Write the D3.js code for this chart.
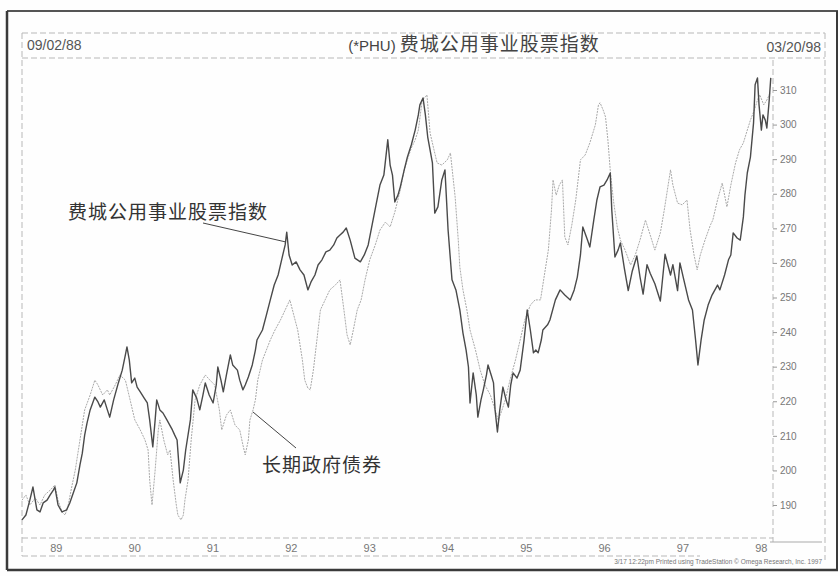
<!DOCTYPE html>
<html>
<head>
<meta charset="utf-8">
<script src="https://cdn.jsdelivr.net/npm/d3@7"></script>
<style>
  body { margin: 0; background: #fff; }
  svg text { font-family: "Liberation Sans", Arial, sans-serif; }
  .cjk { font-family: "Noto Sans CJK SC", sans-serif; }
</style>
</head>
<body>
<div id="chart"></div>
<script>
// PHU index (dark line): decimal year, index value
const phuYears = [1988.67,1988.72,1988.77,1988.81,1988.86,1988.90,1988.94,1988.99,1989.03,1989.07,1989.09,1989.13,1989.18,1989.24,1989.28,1989.33,1989.37,1989.41,1989.44,1989.47,1989.50,1989.54,1989.60,1989.64,1989.67,1989.72,1989.76,1989.79,1989.84,1989.90,1989.95,1989.99,1990.01,1990.04,1990.07,1990.11,1990.14,1990.18,1990.23,1990.27,1990.30,1990.34,1990.37,1990.39,1990.43,1990.47,1990.52,1990.59,1990.62,1990.65,1990.69,1990.73,1990.76,1990.82,1990.85,1990.90,1990.94,1990.98,1991.01,1991.06,1991.11,1991.15,1991.17,1991.21,1991.24,1991.28,1991.33,1991.36,1991.42,1991.45,1991.49,1991.52,1991.56,1991.61,1991.65,1991.67,1991.74,1991.79,1991.84,1991.89,1991.94,1991.99,1992.03,1992.05,1992.08,1992.12,1992.17,1992.22,1992.27,1992.32,1992.36,1992.41,1992.45,1992.50,1992.55,1992.60,1992.65,1992.69,1992.73,1992.77,1992.81,1992.86,1992.92,1992.99,1993.04,1993.09,1993.14,1993.19,1993.24,1993.29,1993.34,1993.37,1993.40,1993.43,1993.47,1993.50,1993.55,1993.59,1993.64,1993.69,1993.73,1993.75,1993.79,1993.82,1993.85,1993.91,1993.94,1993.98,1994.03,1994.07,1994.11,1994.16,1994.21,1994.26,1994.30,1994.34,1994.37,1994.39,1994.43,1994.47,1994.49,1994.53,1994.56,1994.60,1994.62,1994.66,1994.69,1994.71,1994.74,1994.77,1994.81,1994.85,1994.88,1994.91,1994.94,1994.99,1995.03,1995.08,1995.12,1995.16,1995.20,1995.23,1995.26,1995.30,1995.32,1995.38,1995.41,1995.48,1995.54,1995.60,1995.67,1995.72,1995.76,1995.80,1995.83,1995.89,1995.92,1995.97,1996.01,1996.05,1996.10,1996.14,1996.18,1996.20,1996.24,1996.28,1996.31,1996.36,1996.41,1996.46,1996.52,1996.56,1996.60,1996.65,1996.69,1996.75,1996.82,1996.88,1996.95,1996.98,1997.04,1997.07,1997.12,1997.18,1997.23,1997.27,1997.30,1997.34,1997.38,1997.43,1997.48,1997.55,1997.58,1997.64,1997.69,1997.72,1997.75,1997.80,1997.84,1997.88,1997.90,1997.93,1997.97,1998.01,1998.03,1998.06,1998.08,1998.11,1998.13,1998.16,1998.18,1998.21,1998.23];
const phuValues = [185.7,187.1,191.4,195.2,188.6,188.0,190.6,191.4,192.9,194.3,195.2,190.0,188.0,188.6,190.6,193.8,196.4,201.6,205.0,210.2,213.7,217.5,221.2,219.8,218.3,220.4,217.5,215.4,220.4,225.3,229.0,233.4,235.7,231.9,225.3,226.7,224.1,222.7,220.9,219.5,214.6,206.8,214.6,220.4,217.5,216.6,214.6,211.7,210.2,208.8,196.4,200.1,205.9,214.6,223.3,220.9,217.5,221.8,225.3,221.8,219.5,224.7,229.9,226.1,222.7,227.6,233.4,230.5,229.0,226.1,223.3,224.7,227.0,230.5,234.8,237.7,240.6,244.9,249.3,253.6,256.5,261.4,265.2,268.9,262.3,259.4,260.3,258.0,256.5,252.2,254.5,256.5,259.4,260.9,263.2,263.7,265.2,267.2,268.1,268.9,270.1,266.6,261.4,260.3,262.3,265.2,271.0,276.8,282.5,285.4,295.6,288.3,285.4,277.6,279.6,282.0,286.9,290.6,294.1,298.4,302.8,305.7,307.7,302.8,296.4,288.9,274.4,276.2,284.0,286.9,269.5,255.1,252.2,246.4,239.7,234.8,229.9,219.5,228.2,221.8,215.4,220.4,223.3,227.6,230.5,227.6,225.3,217.5,211.1,217.5,224.1,220.4,218.3,224.7,228.2,226.7,229.0,237.7,246.4,240.6,234.0,234.8,234.0,237.7,240.6,242.1,243.5,249.3,252.2,250.7,249.3,252.2,255.9,262.3,270.4,266.6,264.6,272.4,278.2,282.0,282.5,284.0,286.0,275.3,261.7,263.7,265.8,258.5,252.0,257.5,262.0,256.0,251.0,259.5,257.0,254.0,249.0,262.5,256.5,259.5,252.0,260.0,255.1,249.3,246.4,237.7,230.5,237.7,243.5,247.8,250.7,253.6,252.2,256.5,260.9,262.3,268.7,267.2,266.6,273.3,279.6,286.0,290.6,300.5,311.5,313.5,305.7,298.4,302.8,301.3,299.0,307.1,313.5];

// Long-term government bonds (light line), drawn on the same scale
const bondYears = [1988.67,1988.72,1988.77,1988.84,1988.90,1988.96,1989.03,1989.09,1989.13,1989.18,1989.22,1989.26,1989.31,1989.35,1989.41,1989.47,1989.54,1989.60,1989.64,1989.70,1989.76,1989.79,1989.86,1989.92,1989.99,1990.05,1990.11,1990.18,1990.24,1990.28,1990.30,1990.33,1990.37,1990.41,1990.43,1990.48,1990.53,1990.56,1990.60,1990.64,1990.66,1990.70,1990.73,1990.75,1990.79,1990.83,1990.88,1990.94,1991.01,1991.07,1991.13,1991.19,1991.22,1991.28,1991.33,1991.39,1991.45,1991.49,1991.52,1991.56,1991.58,1991.62,1991.65,1991.68,1991.74,1991.79,1991.84,1991.90,1991.97,1992.03,1992.09,1992.14,1992.19,1992.25,1992.28,1992.32,1992.35,1992.39,1992.42,1992.48,1992.54,1992.60,1992.67,1992.73,1992.78,1992.82,1992.86,1992.90,1992.95,1993.00,1993.05,1993.11,1993.18,1993.24,1993.31,1993.37,1993.43,1993.50,1993.55,1993.59,1993.64,1993.69,1993.73,1993.78,1993.82,1993.84,1993.88,1993.93,1993.97,1994.03,1994.10,1994.14,1994.17,1994.20,1994.24,1994.26,1994.30,1994.35,1994.39,1994.46,1994.52,1994.58,1994.65,1994.71,1994.75,1994.79,1994.84,1994.90,1994.97,1995.03,1995.09,1995.16,1995.22,1995.29,1995.35,1995.39,1995.43,1995.45,1995.49,1995.53,1995.57,1995.60,1995.64,1995.69,1995.74,1995.80,1995.86,1995.92,1995.99,1996.03,1996.05,1996.09,1996.12,1996.15,1996.18,1996.22,1996.27,1996.31,1996.37,1996.44,1996.50,1996.56,1996.63,1996.69,1996.75,1996.82,1996.87,1996.91,1996.95,1996.98,1997.04,1997.10,1997.16,1997.20,1997.25,1997.29,1997.33,1997.39,1997.46,1997.49,1997.55,1997.61,1997.67,1997.72,1997.78,1997.83,1997.88,1997.93,1997.97,1998.02,1998.06,1998.09,1998.14,1998.18,1998.22];
const bondValues = [191.4,192.9,190.0,192.0,190.0,192.9,194.3,195.8,191.4,188.0,187.1,190.0,195.8,200.1,208.8,217.5,221.8,226.1,224.7,221.8,223.3,221.8,224.7,227.6,226.1,220.4,214.6,211.7,208.8,205.9,197.2,190.0,200.1,211.7,214.6,208.8,204.5,205.9,197.2,190.0,187.1,185.7,187.1,191.4,197.2,208.8,220.4,224.7,227.6,226.1,224.7,217.5,211.7,216.0,217.5,213.1,211.7,207.4,204.5,208.8,214.6,217.5,220.4,226.1,231.9,234.8,237.7,240.6,243.5,246.4,249.3,244.9,240.6,231.9,226.1,223.8,223.3,229.0,234.8,246.4,249.3,252.2,253.6,255.1,246.4,239.2,236.3,240.6,246.4,249.3,255.1,260.9,265.2,269.5,271.8,270.4,274.7,281.1,286.9,289.8,293.2,295.6,298.4,307.1,308.0,308.6,297.6,292.7,288.9,288.3,289.8,291.8,285.4,279.1,266.6,258.8,252.2,246.4,240.6,234.8,229.0,224.7,221.8,217.5,214.6,216.9,220.4,226.1,231.9,237.7,243.5,247.8,249.3,249.3,258.0,263.7,275.3,284.0,279.6,282.5,284.0,267.5,265.2,271.0,278.2,289.8,291.2,294.7,299.9,305.7,306.3,304.2,302.2,295.6,286.9,278.2,270.4,266.6,263.7,259.4,262.3,266.6,272.4,268.1,263.7,268.7,275.3,281.1,286.9,282.5,277.3,276.8,278.2,269.5,262.3,258.0,262.3,266.6,271.0,272.4,278.2,283.1,276.2,282.5,288.9,292.7,294.7,298.4,301.3,304.2,307.1,308.6,305.7,307.1,309.1];

const yearTicks = [1989, 1990, 1991, 1992, 1993, 1994, 1995, 1996, 1997, 1998];
const valueTicks = [190, 200, 210, 220, 230, 240, 250, 260, 270, 280, 290, 300, 310];

const phu = phuYears.map((t, i) => ({ t: t, v: phuValues[i] }));
const bond = bondYears.map((t, i) => ({ t: t, v: bondValues[i] }));

const W = 840, H = 576;
const plotLeft = 22, plotRight = 773, plotTop = 60, plotBottom = 538;

const svg = d3.select("#chart").append("svg")
    .attr("width", W)
    .attr("height", H);

svg.append("rect").attr("width", W).attr("height", H).attr("fill", "#fefefe");

const x = d3.scaleLinear()
    .domain([1988.67, 1998.22])
    .range([plotLeft, 770]);

const y = d3.scaleLinear()
    .domain([190, 310])
    .range([505, 90]);

// Outer page frame
const frame = svg.append("g").attr("fill", "none").attr("stroke", "#3a3a3a");
frame.append("line").attr("x1", 7).attr("x2", 838).attr("y1", 11).attr("y2", 11).attr("stroke-width", 2).attr("stroke", "#555");
frame.append("line").attr("x1", 7).attr("x2", 7).attr("y1", 11).attr("y2", 570).attr("stroke-width", 2.5);
frame.append("line").attr("x1", 7).attr("x2", 838).attr("y1", 570).attr("y2", 570).attr("stroke-width", 2.5);
frame.append("line").attr("x1", 837).attr("x2", 837).attr("y1", 11).attr("y2", 570).attr("stroke-width", 2);

// Dashed panel lines
const dash = svg.append("g").attr("fill", "none").attr("stroke", "#b8b8b8")
    .attr("stroke-width", 1).attr("stroke-dasharray", "6,3");
dash.append("line").attr("x1", plotLeft).attr("x2", 825).attr("y1", 33).attr("y2", 33);
dash.append("line").attr("x1", plotLeft).attr("x2", 825).attr("y1", 58).attr("y2", 58);
dash.append("line").attr("x1", plotLeft).attr("x2", plotLeft).attr("y1", 33).attr("y2", 556);
dash.append("line").attr("x1", 825).attr("x2", 825).attr("y1", 33).attr("y2", 560);
dash.append("line").attr("x1", plotLeft).attr("x2", plotRight).attr("y1", plotBottom).attr("y2", plotBottom);
dash.append("line").attr("x1", plotLeft).attr("x2", 700).attr("y1", 556).attr("y2", 556);
dash.append("line").attr("x1", plotRight).attr("x2", plotRight).attr("y1", plotTop).attr("y2", 542);
svg.append("line").attr("x1", 770).attr("x2", 822).attr("y1", 542).attr("y2", 542)
    .attr("stroke", "#aaa");

// Header texts
svg.append("text").attr("x", 27).attr("y", 50)
    .attr("font-size", 14).attr("fill", "#555").text("09/02/88");
svg.append("text").attr("x", 821).attr("y", 52).attr("text-anchor", "end")
    .attr("font-size", 14).attr("fill", "#555").text("03/20/98");
const title = svg.append("text").attr("x", 474).attr("y", 51).attr("text-anchor", "middle")
    .attr("fill", "#444");
title.append("tspan").attr("font-size", 15).text("(*PHU) ");
title.append("tspan").attr("class", "cjk").attr("font-size", 19).attr("letter-spacing", 1)
    .text("费城公用事业股票指数");

// Right value axis
const yAxis = svg.append("g")
    .attr("transform", `translate(${plotRight},0)`)
    .call(d3.axisRight(y).tickValues(valueTicks).tickSize(4).tickPadding(3));
yAxis.select(".domain").remove();
yAxis.selectAll("line").attr("stroke", "#999");
yAxis.selectAll("text").attr("fill", "#777").attr("font-size", 10)
    .attr("font-family", "Liberation Sans, Arial, sans-serif");

// Bottom year axis
const xAxis = svg.append("g")
    .attr("transform", `translate(0,${plotBottom})`)
    .call(d3.axisBottom(x).tickValues(yearTicks).tickSize(0).tickPadding(6)
        .tickFormat(d => String(d).slice(2)));
xAxis.select(".domain").remove();
xAxis.selectAll("text").attr("fill", "#777").attr("font-size", 11).attr("dx", 8)
    .attr("font-family", "Liberation Sans, Arial, sans-serif");

// Lines
const line = d3.line().x(d => x(d.t)).y(d => y(d.v));

svg.append("path").datum(bond)
    .attr("fill", "none")
    .attr("stroke", "#a9a9a9")
    .attr("stroke-width", 1)
    .attr("stroke-dasharray", "2,1")
    .attr("d", line);

svg.append("path").datum(phu)
    .attr("fill", "none")
    .attr("stroke", "#4a4a4a")
    .attr("stroke-width", 1.4)
    .attr("stroke-linejoin", "round")
    .attr("d", line);

// Annotations
svg.append("text").attr("class", "cjk").attr("x", 68).attr("y", 219)
    .attr("font-size", 19).attr("letter-spacing", 1)
    .attr("fill", "#333").text("费城公用事业股票指数");
svg.append("line").attr("x1", 203).attr("y1", 223).attr("x2", 286).attr("y2", 242)
    .attr("stroke", "#444").attr("stroke-width", 1);

svg.append("text").attr("class", "cjk").attr("x", 262).attr("y", 472)
    .attr("font-size", 19).attr("letter-spacing", 1)
    .attr("fill", "#333").text("长期政府债券");
svg.append("line").attr("x1", 253).attr("y1", 412).attr("x2", 296).attr("y2", 448)
    .attr("stroke", "#444").attr("stroke-width", 1);

// Footer
svg.append("text").attr("x", 822).attr("y", 564).attr("text-anchor", "end")
    .attr("font-size", 6.5).attr("fill", "#777")
    .text("3/17 12:22pm Printed using TradeStation © Omega Research, Inc. 1997");
</script>
</body>
</html>
